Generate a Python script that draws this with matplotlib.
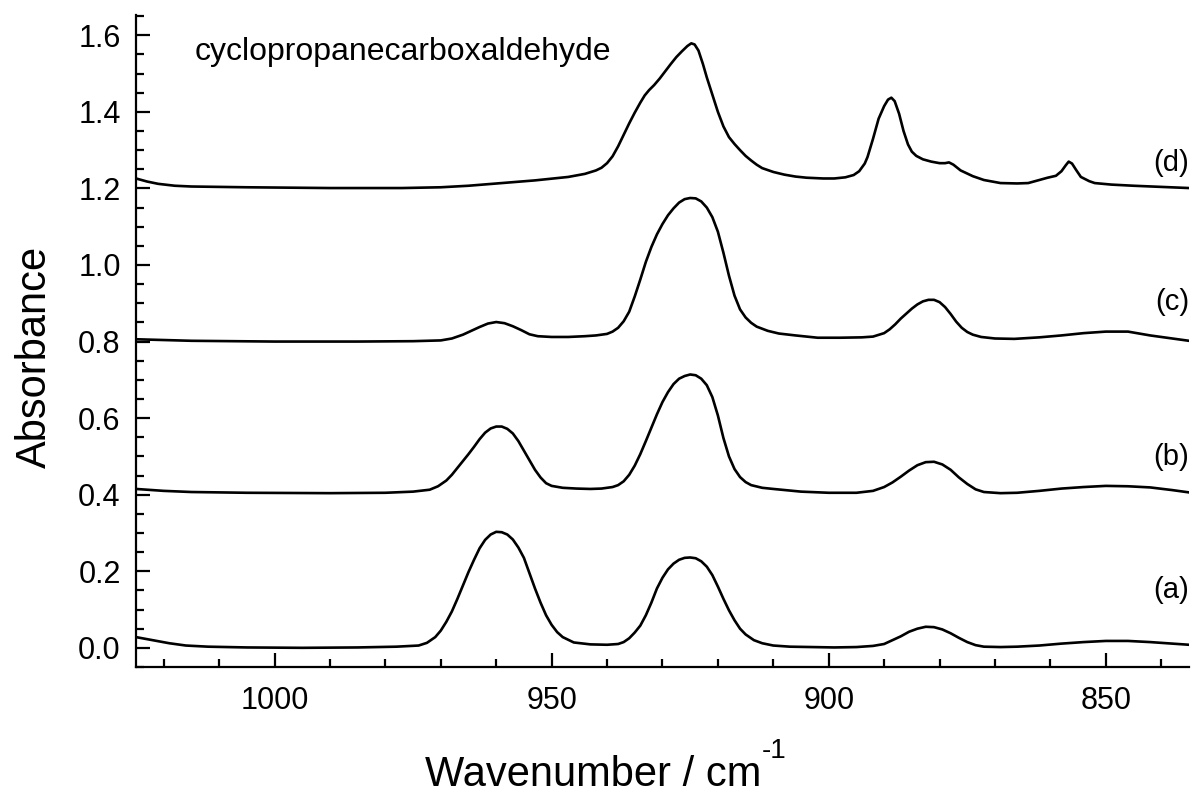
import matplotlib
matplotlib.use("Agg")
import matplotlib.pyplot as plt
from matplotlib.ticker import MultipleLocator, FormatStrFormatter

plt.rcParams['font.family'] = ['Liberation Sans', 'DejaVu Sans']

# spectrum (a)
wn_a = [1025, 1022, 1019, 1016, 1012, 1005, 995, 985, 978, 974, 972.5, 971, 970, 969, 968, 967, 966, 965,
        964, 963, 962, 961, 960, 959, 958, 957, 956, 955, 954, 953, 952, 951, 950, 949, 948, 946, 943,
        940, 938, 937, 936, 935, 934, 933, 932, 931, 930, 929, 928, 927, 926, 925, 924, 923, 922, 921,
        920, 919, 918, 917, 916, 915, 913.5, 912, 910, 907, 903, 899, 895, 892, 890, 888.5, 887, 885.5,
        884, 882.5, 881, 879.5, 878, 876.5, 875, 873.5, 872, 869, 866, 862, 858, 854, 850, 846, 842,
        838, 835]
abs_a = [0.028, 0.02, 0.012, 0.006, 0.003, 0.001, 0.0, 0.001, 0.003, 0.006, 0.013, 0.028, 0.045, 0.068,
         0.095, 0.128, 0.163, 0.198, 0.23, 0.26, 0.282, 0.296, 0.303, 0.302, 0.296, 0.283, 0.262, 0.235,
         0.195, 0.155, 0.118, 0.085, 0.06, 0.041, 0.028, 0.014, 0.009, 0.008, 0.01, 0.015, 0.025, 0.04,
         0.058, 0.085, 0.118, 0.155, 0.183, 0.205, 0.22, 0.23, 0.235, 0.236, 0.234, 0.226, 0.212, 0.19,
         0.16, 0.128, 0.098, 0.072, 0.05, 0.035, 0.02, 0.012, 0.006, 0.003, 0.002, 0.001, 0.002, 0.005,
         0.01, 0.02, 0.03, 0.042, 0.05, 0.055, 0.054, 0.048, 0.038, 0.026, 0.015, 0.007, 0.003, 0.002,
         0.003, 0.006, 0.011, 0.015, 0.018, 0.018, 0.015, 0.011, 0.008]

# spectrum (b)
wn_b = [1025, 1020, 1015, 1005, 990, 980, 975, 972, 970.5, 969, 968, 967, 966, 965, 964, 963, 962, 961,
        960, 959, 958, 957, 956, 955, 954, 953, 952, 951, 950, 948, 945.5, 943, 941, 939, 938, 937, 936,
        935, 934, 933, 932, 931, 930, 929, 928, 927, 926, 925, 924, 923, 922, 921, 920, 919, 918, 917,
        916, 915, 914, 912, 910, 905, 900, 895, 892, 890, 888.5, 887, 885.5, 884, 882.5, 881, 879.5,
        878, 876.5, 875, 873.5, 872, 869, 866, 862, 858, 854, 850, 846, 842, 838, 835]
abs_b = [0.415, 0.41, 0.407, 0.405, 0.404, 0.405, 0.408, 0.413, 0.422, 0.437, 0.452, 0.47, 0.488, 0.506,
         0.525, 0.545, 0.562, 0.573, 0.578, 0.578, 0.572, 0.56, 0.54, 0.515, 0.49, 0.465, 0.445, 0.43,
         0.423, 0.418, 0.416, 0.415, 0.416, 0.42, 0.425, 0.435, 0.452, 0.476, 0.506, 0.54, 0.575, 0.61,
         0.642, 0.668, 0.689, 0.703, 0.71, 0.714, 0.712, 0.703, 0.686, 0.655, 0.607, 0.548, 0.5, 0.467,
         0.446, 0.433, 0.425, 0.418, 0.415, 0.408, 0.405, 0.405, 0.41, 0.42, 0.432, 0.447, 0.463, 0.477,
         0.485, 0.486, 0.479, 0.465, 0.445, 0.428, 0.414, 0.407, 0.404, 0.405, 0.41, 0.416, 0.42, 0.423,
         0.422, 0.419, 0.412, 0.406]

# spectrum (c)
wn_c = [1025, 1015, 1000, 985, 975, 970, 968, 966, 964.5, 963, 961.5, 960, 958.5, 957, 955.5, 954, 952.5,
        950, 947, 944, 942, 940, 939, 938, 937, 936, 935, 934, 933, 932, 931, 930, 929, 928, 927, 926,
        925, 924, 923, 922, 921, 920, 919, 918, 917, 916, 915, 914, 913, 911, 909, 906, 902, 898, 894,
        892, 890, 889, 888, 887, 886, 885, 884, 883, 882, 881, 880, 879, 878, 877, 876, 875, 874, 872.5,
        870, 866.5, 862, 858, 854, 850, 846, 842, 838, 835]
abs_c = [0.806, 0.802, 0.8, 0.8, 0.801, 0.803, 0.808, 0.818, 0.828, 0.838, 0.847, 0.851, 0.848, 0.84,
         0.83, 0.819, 0.814, 0.812, 0.812, 0.814, 0.816, 0.82, 0.826, 0.836, 0.853, 0.878, 0.918, 0.962,
         1.008, 1.047, 1.08, 1.107, 1.13, 1.148, 1.163, 1.172, 1.175, 1.174, 1.166, 1.15, 1.125, 1.087,
         1.032, 0.972, 0.92, 0.884, 0.863, 0.849, 0.839, 0.828, 0.821, 0.816, 0.81, 0.81, 0.811, 0.813,
         0.822, 0.832, 0.845, 0.86, 0.873, 0.886, 0.897, 0.905, 0.909, 0.909, 0.903, 0.89, 0.872, 0.852,
         0.836, 0.825, 0.818, 0.812, 0.808, 0.807, 0.811, 0.816, 0.822, 0.826, 0.826, 0.816, 0.808, 0.802]

# spectrum (d)
wn_d = [1025, 1023, 1021, 1018, 1015, 1005, 990, 977, 970, 965, 959, 953, 947, 944, 942, 941, 940, 939,
        938, 937, 936, 935, 934, 933.2, 932.4, 931.5, 930.5, 929.5, 928.5, 927.5, 926.5, 925.5, 924.8,
        924.2, 923.5, 922.7, 922, 921, 920, 919, 918, 917, 916, 915, 914, 913, 912, 910, 908, 906, 904,
        901, 899, 897, 895.5, 894.5, 893.5, 893, 892, 891, 890, 889.3, 888.7, 888.1, 887.3, 886.5, 885.7,
        885, 884.2, 883, 881.5, 880, 879, 878.3, 877.5, 876.2, 874, 872, 869, 866, 864, 862, 860.5,
        859, 858, 857.2, 856.7, 856.1, 855.3, 854.5, 853, 852, 849, 845, 840, 835]
abs_d = [1.226, 1.218, 1.212, 1.207, 1.205, 1.203, 1.201, 1.201, 1.203, 1.207, 1.214, 1.221, 1.23, 1.238,
         1.247, 1.254, 1.266, 1.284, 1.31, 1.34, 1.37, 1.398, 1.424, 1.443, 1.457, 1.47, 1.487, 1.506,
         1.525, 1.543, 1.558, 1.572, 1.579, 1.576, 1.56, 1.525, 1.49, 1.445, 1.4, 1.362, 1.334, 1.316,
         1.3, 1.285, 1.273, 1.262, 1.253, 1.243, 1.236, 1.231, 1.228, 1.226, 1.226, 1.229, 1.235, 1.245,
         1.265, 1.282, 1.33, 1.382, 1.415, 1.432, 1.437, 1.428, 1.395, 1.35, 1.315, 1.296, 1.285, 1.276,
         1.27, 1.266, 1.266, 1.268, 1.262, 1.247, 1.232, 1.222, 1.214, 1.213, 1.214, 1.222, 1.228, 1.233,
         1.245, 1.261, 1.27, 1.265, 1.247, 1.23, 1.219, 1.214, 1.21, 1.207, 1.204, 1.201]

spectra = [(wn_a, abs_a), (wn_b, abs_b), (wn_c, abs_c), (wn_d, abs_d)]
trace_labels = ['(a)', '(b)', '(c)', '(d)']
label_heights = [0.151, 0.499, 0.903, 1.266]
compound = 'cyclopropanecarboxaldehyde'

fig = plt.figure(figsize=(11.96, 7.98), dpi=100)
ax = fig.add_axes([0.1137, 0.1642, 0.8804, 0.8170])

for wn, ab in spectra:
    ax.plot(wn, ab, color='black', lw=1.9, solid_joinstyle='round')

for lab, h in zip(trace_labels, label_heights):
    ax.text(834.9, h, lab, ha='right', va='center', fontsize=21)

ax.text(1014.4, 1.557, compound, ha='left', va='center', fontsize=23)

ax.set_xlim(1025, 835)
ax.set_ylim(-0.05, 1.653)
ax.xaxis.set_major_locator(MultipleLocator(50))
ax.xaxis.set_minor_locator(MultipleLocator(10))
ax.yaxis.set_major_locator(MultipleLocator(0.2))
ax.yaxis.set_minor_locator(MultipleLocator(0.05))
ax.yaxis.set_major_formatter(FormatStrFormatter('%.1f'))

for s in ['top', 'right']:
    ax.spines[s].set_visible(False)
for s in ['left', 'bottom']:
    ax.spines[s].set_linewidth(1.6)

ax.tick_params(which='both', direction='in', width=1.6, labelsize=22)
ax.tick_params(which='major', length=10)
ax.tick_params(which='minor', length=6)
ax.tick_params(axis='x', pad=14)
ax.tick_params(axis='y', pad=11)

ax.set_xlabel('Wavenumber / cm', fontsize=30, ha='left', va='baseline')
ax.xaxis.set_label_coords(0.2745, -0.183)
# superscript "-1" sitting on the cap line of the label
ax.annotate('-1', xy=(1, 0), xycoords=ax.xaxis.label, xytext=(0.5, 26.5), textcoords='offset points',
            ha='left', va='baseline', fontsize=20)
ax.set_ylabel('Absorbance', fontsize=30)
ax.yaxis.set_label_coords(-0.077, 0.475)

fig.savefig('out.png', dpi=100)
